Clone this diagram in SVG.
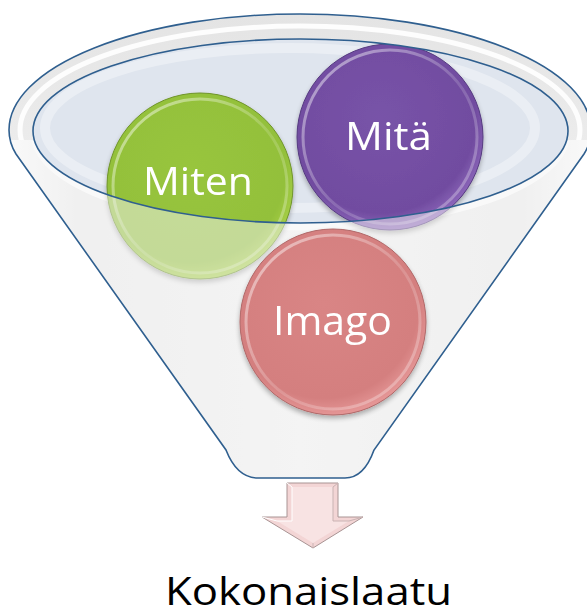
<svg xmlns="http://www.w3.org/2000/svg" width="587" height="615" viewBox="0 0 587 615">
  <style>
    .edge { fill: none; stroke: #2f5f8f; stroke-width: 1.6; }
    .label { font-family: "Open Sans", "Noto Sans", sans-serif; fill: #ffffff; text-anchor: middle; }
    .caption { font-family: "Open Sans", "Noto Sans", sans-serif; fill: #000000; text-anchor: middle; }
  </style>
  <defs>
    <!-- funnel body: white at the walls, light grey in the middle -->
    <linearGradient id="bodyFill" x1="0" y1="0" x2="1" y2="0">
      <stop offset="0" stop-color="#ffffff"/>
      <stop offset="0.12" stop-color="#ececec"/>
      <stop offset="0.5" stop-color="#f4f4f4"/>
      <stop offset="0.88" stop-color="#ececec"/>
      <stop offset="1" stop-color="#ffffff"/>
    </linearGradient>
    <linearGradient id="rimFill" x1="0" y1="0" x2="0" y2="1">
      <stop offset="0" stop-color="#e4e4e4"/>
      <stop offset="1" stop-color="#f2f2f2"/>
    </linearGradient>
    <!-- bevel highlight on the discs -->
    <linearGradient id="bevel" x1="0" y1="0" x2="1" y2="1">
      <stop offset="0" stop-color="#ffffff" stop-opacity="0.55"/>
      <stop offset="0.55" stop-color="#ffffff" stop-opacity="0.15"/>
      <stop offset="1" stop-color="#ffffff" stop-opacity="0.35"/>
    </linearGradient>
    <radialGradient id="greenFill" cx="0.45" cy="0.4" r="0.6">
      <stop offset="0" stop-color="#98c53e"/>
      <stop offset="0.85" stop-color="#93c03a"/>
      <stop offset="1" stop-color="#a8d048"/>
    </radialGradient>
    <radialGradient id="purpleFill" cx="0.45" cy="0.4" r="0.6">
      <stop offset="0" stop-color="#7853a8"/>
      <stop offset="0.85" stop-color="#714ca0"/>
      <stop offset="1" stop-color="#8a64b8"/>
    </radialGradient>
    <radialGradient id="pinkFill" cx="0.45" cy="0.4" r="0.6">
      <stop offset="0" stop-color="#d98585"/>
      <stop offset="0.85" stop-color="#d47f7f"/>
      <stop offset="1" stop-color="#e49595"/>
    </radialGradient>
    <clipPath id="upperRim">
      <rect x="0" y="0" width="587" height="140"/>
    </clipPath>
    <filter id="soft" x="-10%" y="-10%" width="120%" height="130%">
      <feGaussianBlur in="SourceAlpha" stdDeviation="2.5"/>
      <feOffset dy="3" result="b"/>
      <feComponentTransfer><feFuncA type="linear" slope="0.3"/></feComponentTransfer>
      <feMerge><feMergeNode/><feMergeNode in="SourceGraphic"/></feMerge>
    </filter>
  </defs>

  <!-- funnel back -->
  <g id="funnel-back">
    <path d="M9,130 A291,116 0 0 1 591,130 C591,140 589,146 584,154 L374,450 Q364,478 345,478 L258,478 Q237,478 226,450 L16,154 C11,146 9,140 9,130 Z" fill="url(#bodyFill)"/>
    <ellipse cx="300.5" cy="134" rx="266" ry="93" fill="none" stroke="#ffffff" stroke-width="7"/>
    <ellipse cx="300.5" cy="131" rx="267.5" ry="92" fill="#dfe5ee"/>
    <ellipse cx="290" cy="128" rx="245" ry="80" fill="none" stroke="#ffffff" stroke-opacity="0.35" stroke-width="10"/>
  </g>

  <!-- discs inside the mouth -->
  <g id="node-miten" filter="url(#soft)">
    <circle cx="200" cy="186" r="93" fill="url(#greenFill)" stroke="#6f9429" stroke-width="1"/>
    <circle cx="200" cy="186" r="87" fill="none" stroke="url(#bevel)" stroke-width="3"/>
    <text class="label" x="198" y="195" font-size="39" textLength="110" lengthAdjust="spacingAndGlyphs">Miten</text>
  </g>
  <g id="node-mita" filter="url(#soft)">
    <circle cx="390" cy="137" r="93" fill="url(#purpleFill)" stroke="#553a80" stroke-width="1"/>
    <circle cx="390" cy="137" r="87" fill="none" stroke="url(#bevel)" stroke-width="3"/>
    <text class="label" x="388.5" y="150" font-size="39" textLength="87" lengthAdjust="spacingAndGlyphs">Mitä</text>
  </g>

  <!-- funnel front: translucent wall over the lower halves of the discs -->
  <g id="funnel-front">
    <path fill-rule="evenodd" fill="#f3f3f3" fill-opacity="0.5" d="M9,130 A291,116 0 0 1 591,130 C591,140 589,146 584,154 L374,450 Q364,478 345,478 L258,478 Q237,478 226,450 L16,154 C11,146 9,140 9,130 Z M33,131 A267.5,92 0 1 0 568,131 A267.5,92 0 1 0 33,131 Z"/>
    <g clip-path="url(#upperRim)">
      <path fill-rule="evenodd" fill="url(#rimFill)" d="M9,130 A291,116 0 1 0 591,130 A291,116 0 1 0 9,130 Z M33,131 A267.5,92 0 1 0 568,131 A267.5,92 0 1 0 33,131 Z"/>
      <ellipse cx="300" cy="130" rx="280" ry="104" fill="none" stroke="#ffffff" stroke-width="5" stroke-opacity="0.9"/>
    </g>
  </g>

  <!-- outlines -->
  <g id="connectors">
    <path class="edge" d="M9,130 A291,116 0 0 1 591,130 C591,140 589,146 584,154 L374,450 Q364,478 345,478 L258,478 Q237,478 226,450 L16,154 C11,146 9,140 9,130 Z"/>
    <ellipse class="edge" cx="300.5" cy="131" rx="267.5" ry="92"/>
  </g>

  <g id="node-imago" filter="url(#soft)">
    <circle cx="333" cy="322" r="93" fill="url(#pinkFill)" stroke="#b06868" stroke-width="1"/>
    <circle cx="333" cy="322" r="87" fill="none" stroke="url(#bevel)" stroke-width="3"/>
    <text class="label" x="332.5" y="335" font-size="41" textLength="119" lengthAdjust="spacingAndGlyphs" fill="#f4f4f4">Imago</text>
  </g>

  <!-- output arrow -->
  <g id="arrow">
    <polygon points="287,483 338,483 338,517 363,517 313,548 262,517 287,517" fill="#f3d5d5" stroke="#a99494" stroke-width="1"/>
    <polygon points="292,487 333,487 333,521 349,521 313,543 277,521 292,521" fill="#f8e3e3"/>
    <polyline points="287,483 292,487 292,521 277,521 262,517" fill="none" stroke="#ffffff" stroke-width="1"/>
    <polyline points="338,483 333,487 333,521 349,521 363,517 M313,548 313,543" fill="none" stroke="#c9b3b3" stroke-width="1"/>
    <line x1="313" y1="548" x2="313" y2="543" stroke="#c9b3b3"/>
  </g>

  <g id="node-kokonaislaatu">
    <text class="caption" x="308.5" y="605" font-size="39" textLength="287" lengthAdjust="spacingAndGlyphs">Kokonaislaatu</text>
  </g>
</svg>
